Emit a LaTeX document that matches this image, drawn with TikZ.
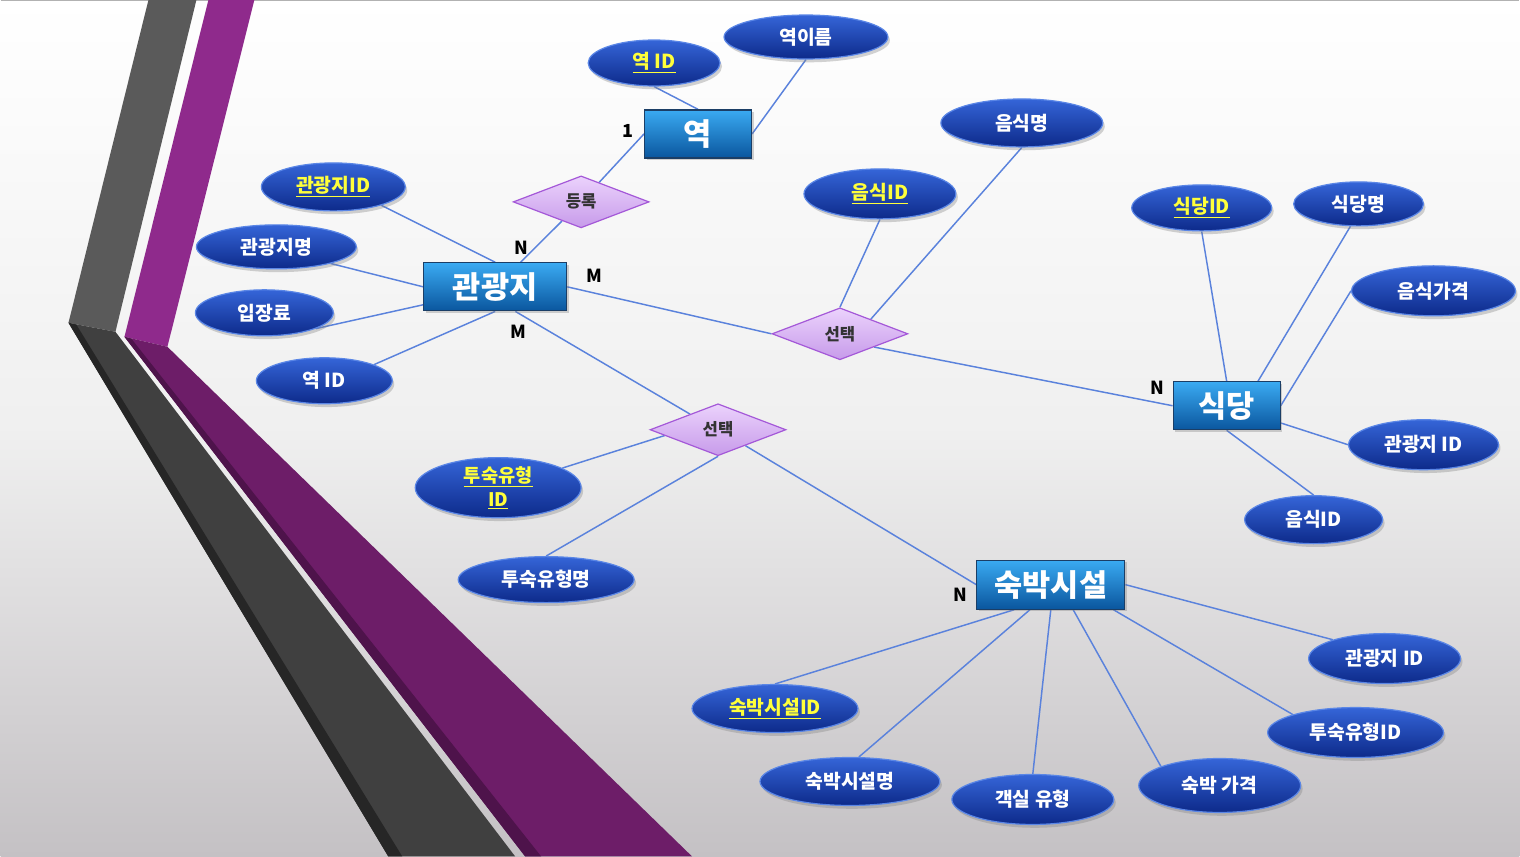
\documentclass[tikz,border=0pt]{standalone}
\usepackage{fontspec}
\setmainfont{Noto Sans CJK KR}
\usetikzlibrary{shapes.geometric,shadows,calc}
\definecolor{bgtop}{HTML}{FFFFFF}
\definecolor{bgbot}{HTML}{C4C1C4}
\definecolor{greyup}{HTML}{5A5A5A}
\definecolor{greylow}{HTML}{404040}
\definecolor{greydark}{HTML}{262626}
\definecolor{purpup}{HTML}{8F2A8C}
\definecolor{purplow}{HTML}{6D1D68}
\definecolor{purpdark}{HTML}{4E134B}
\definecolor{enttop}{HTML}{3AAAF2}
\definecolor{entbot}{HTML}{0A569E}
\definecolor{entborder}{HTML}{1B3E66}
\definecolor{elltop}{HTML}{3565D8}
\definecolor{ellbot}{HTML}{0D2A8A}
\definecolor{ellborder}{HTML}{5A86E6}
\definecolor{diatop}{HTML}{EBD2FC}
\definecolor{diabot}{HTML}{C79BEA}
\definecolor{diaborder}{HTML}{A458D8}
\definecolor{linecol}{HTML}{5A82DC}
\definecolor{keyyellow}{HTML}{FFFF3A}
\pgfdeclarelayer{bg}
\pgfdeclarelayer{lines}
\pgfsetlayers{bg,lines,main}
\newcommand{\keytxt}[1]{\textcolor{keyyellow}{\underline{#1}}}
\tikzset{
  ent/.style 2 args={rectangle, draw=entborder, line width=0.9pt,
    top color=enttop, bottom color=entbot, text=white,
    font=\fontsize{23}{26}\selectfont\bfseries,
    minimum width=#1*0.75pt, minimum height=#2*0.75pt, inner sep=0pt,
    drop shadow={shadow xshift=1.5pt, shadow yshift=-1.5pt, opacity=0.35}},
  ell/.style 2 args={ellipse, draw=ellborder, line width=0.9pt,
    top color=elltop, bottom color=ellbot, text=white,
    font=\fontsize{14.5}{16}\selectfont\bfseries, align=center,
    minimum width=#1*0.75pt, minimum height=#2*0.75pt, inner sep=0pt,
    drop shadow={shadow xshift=1.5pt, shadow yshift=-2.5pt, opacity=0.35}},
  rel/.style={diamond, draw=diaborder, line width=0.9pt,
    top color=diatop, bottom color=diabot, text=black!80,
    font=\fontsize{12.5}{14}\selectfont\bfseries,
    minimum width=136*0.75pt, minimum height=52*0.75pt, inner sep=0pt},
  conn/.style={draw=linecol, line width=1.1pt},
  card/.style={font=\fontsize{13.5}{15}\selectfont\bfseries, text=black, inner sep=0pt}
}
\begin{document}
\begin{tikzpicture}[x=0.75pt,y=-0.75pt]
\begin{pgfonlayer}{bg}
  \shade[top color=bgtop, bottom color=bgbot, middle color=black!6] (0,0) rectangle (1520,857);
  \draw[black!30, line width=0.8pt] (0,0.5) -- (1520,0.5);
  % grey band
  \fill[greyup] (148,0) -- (196,0) -- (115,332) -- (68,323) -- cycle;
  \fill[greylow] (68,323) -- (115,332) -- (515,857) -- (388,857) -- cycle;
  \fill[greydark] (68,323) -- (76,325) -- (402,857) -- (388,857) -- cycle;
  % purple band
  \fill[purpup] (208,0) -- (254,0) -- (167,347) -- (124,337) -- cycle;
  \fill[purplow] (124,337) -- (167,347) -- (692,857) -- (525,857) -- cycle;
  \fill[purpdark] (124,337) -- (131,339) -- (541,857) -- (525,857) -- cycle;
\end{pgfonlayer}
\useasboundingbox (0,0) rectangle (1520,857);

% entities
\node[ent={107}{48}] (yeok) at (698,134) {역};
\node[ent={143}{48}] (kwan) at (495,287) {관광지};
\node[ent={107}{48}] (sik) at (1227,406) {식당};
\node[ent={148}{49}] (sook) at (1051,585) {숙박시설};

% relationships
\node[rel] (reg) at (581,202) {등록};
\node[rel] (sel1) at (840,334) {선택};
\node[rel] (sel2) at (718,430) {선택};

% attributes of 역
\node[ell={132}{46}] (yid) at (654,63) {\keytxt{역 ID}};
\node[ell={164}{44}] (yname) at (806,37) {역이름};
% attributes of 관광지
\node[ell={144}{48}] (kid) at (333,187) {\keytxt{관광지ID}};
\node[ell={160}{44}] (kname) at (276,247) {관광지명};
\node[ell={138}{46}] (kfee) at (264,313) {입장료};
\node[ell={136}{46}] (kyid) at (324,381) {역 ID};
% attributes of 선택 (top)
\node[ell={162}{48}] (fname) at (1022,123) {음식명};
\node[ell={152}{50}] (fid) at (880,194) {\keytxt{음식ID}};
% attributes of 식당
\node[ell={140}{46}] (sid) at (1202,208) {\keytxt{식당ID}};
\node[ell={130}{44}] (sname) at (1359,204) {식당명};
\node[ell={164}{50}] (fprice) at (1434,291) {음식가격};
\node[ell={150}{50}] (skid) at (1424,445) {관광지 ID};
\node[ell={138}{48}] (sfid) at (1314,520) {음식ID};
% attributes of 선택 (bottom)
\node[ell={166}{48}, font=\fontsize{14}{17}\selectfont\bfseries] (tid) at (498,488) {\keytxt{투숙유형}\\[1pt]\keytxt{ID}};
\node[ell={176}{46}] (tname) at (546,580) {투숙유형명};
% attributes of 숙박시설
\node[ell={152}{50}] (hkid) at (1385,659) {관광지 ID};
\node[ell={166}{48}] (hid) at (775,709) {\keytxt{숙박시설ID}};
\node[ell={176}{50}] (htid) at (1356,733) {투숙유형ID};
\node[ell={180}{48}] (hname) at (850,782) {숙박시설명};
\node[ell={162}{50}] (hroom) at (1033,800) {객실 유형};
\node[ell={162}{54}] (hprice) at (1220,786) {숙박 가격};

% cardinalities
\node[card] (c1) at (628,131) {1};
\node[card] (c2) at (521,248) {N};
\node[card] (c3) at (594,276) {M};
\node[card] (c4) at (518,332) {M};
\node[card] (c5) at (1158,388) {N};
\node[card] (c6) at (961,595) {N};

\begin{pgfonlayer}{lines}
  % 역
  \draw[conn] (yid.south) -- (yeok.north);
  \draw[conn] (yname.south) -- (yeok.east);
  \draw[conn] (reg) -- (yeok.west);
  \draw[conn] (reg) -- (kwan.44);
  % 관광지
  \draw[conn] (kid.-21) -- (kwan.north);
  \draw[conn] (kname.-17) -- (kwan.west);
  \draw[conn] (kfee.-17) -- (kwan.194);
  \draw[conn] (kyid.18) -- (kwan.south);
  % 선택 top
  \draw[conn] (kwan.east) -- (sel1.west);
  \draw[conn] ($(sel1.south)!0.5!(sel1.east)$) -- (sik.west);
  \draw[conn] (fid.south) -- (sel1.north);
  \draw[conn] (fname.south) -- ($(sel1.north)!0.45!(sel1.east)$);
  % 선택 bottom
  \draw[conn] ($(kwan.south)!0.28!(kwan.south east)$) -- ($(sel2.west)!0.59!(sel2.north)$);
  \draw[conn] ($(sel2.south)!0.4!(sel2.east)$) -- (sook.west);
  \draw[conn] (tid.17) -- ($(sel2.west)!0.22!(sel2.south)$);
  \draw[conn] (tname.north) -- (sel2.south);
  % 식당
  \draw[conn] (sid.south) -- (sik.north);
  \draw[conn] (sname.250) -- ($(sik.north)!0.58!(sik.north east)$);
  \draw[conn] (fprice.west) -- (sik.east);
  \draw[conn] ($(sik.east)!0.7!(sik.south east)$) -- (skid.west);
  \draw[conn] (sik.south) -- (sfid.north);
  % 숙박시설
  \draw[conn] (sook.east) -- (hkid.160);
  \draw[conn] ($(sook.south)!0.84!(sook.south east)$) -- (htid.164);
  \draw[conn] ($(sook.south)!0.3!(sook.south east)$) -- (hprice.162);
  \draw[conn] (sook.south) -- (hroom.north);
  \draw[conn] ($(sook.south)!0.28!(sook.south west)$) -- (hname.70);
  \draw[conn] ($(sook.south)!0.49!(sook.south west)$) -- (hid.north);
\end{pgfonlayer}
\end{tikzpicture}
\end{document}
